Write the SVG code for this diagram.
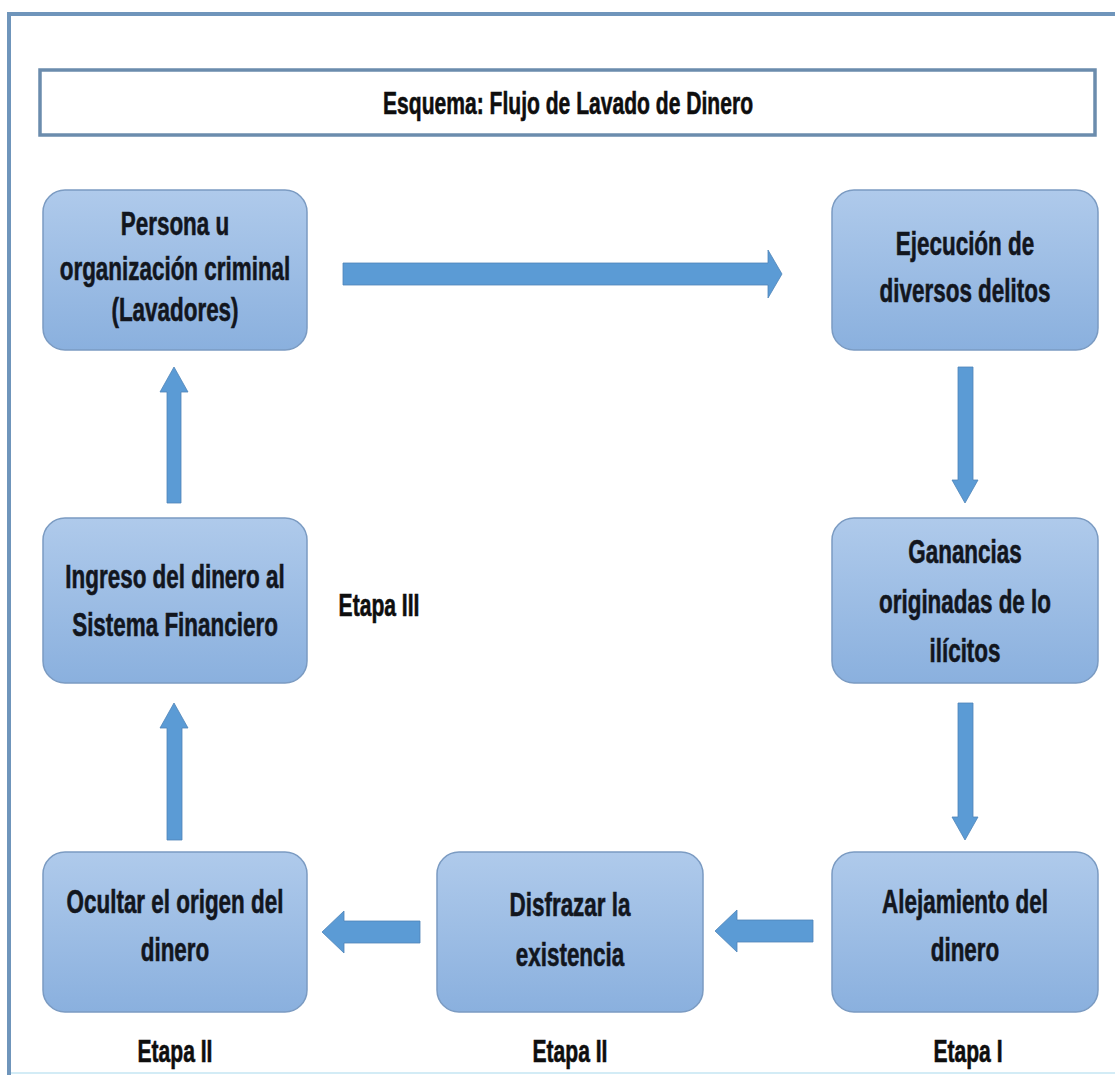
<svg xmlns="http://www.w3.org/2000/svg" width="1115" height="1075" viewBox="0 0 1115 1075">
  <defs>
    <linearGradient id="boxFill" x1="0" y1="0" x2="0" y2="1">
      <stop offset="0" stop-color="#afcaeb"/>
      <stop offset="1" stop-color="#8ab0de"/>
    </linearGradient>
    <style>
      .frame { fill: #ffffff; stroke: #6f95bb; stroke-width: 4; }
      .titlebox { fill: #ffffff; stroke: #6b8cad; stroke-width: 3.5; }
      .node rect { fill: url(#boxFill); stroke: #7b9bc2; stroke-width: 1.5; }
      .lbl { font-family: "Liberation Sans", Arial, sans-serif; font-weight: bold; font-size: 33px; fill: #12161e; stroke: #12161e; stroke-width: 0.6; text-anchor: middle; }
      .title { font-size: 31px; fill: #0e0e0e; stroke: #0e0e0e; }
      .stage { font-size: 31px; fill: #0e0e0e; stroke: #0e0e0e; }
      .arrow { fill: #5b9bd5; stroke: #4f84b8; stroke-width: 0.8; }
    </style>
  </defs>

  <!-- page frame -->
  <rect class="frame" x="9" y="14" width="1200" height="1200"/>
  <line x1="11" y1="1073" x2="1115" y2="1073" stroke="#d3ecf6" stroke-width="2"/>

  <!-- title -->
  <g id="title">
    <rect class="titlebox" x="40" y="70" width="1055" height="65"/>
    <g transform="translate(568,114) scale(0.68,1)">
      <text class="lbl title" x="0" y="0">Esquema: Flujo de Lavado de Dinero</text>
    </g>
  </g>

  <!-- connectors -->
  <g id="connectors">
    <polygon class="arrow" points="343,263 768,263 768,250 782,274 768,298 768,285 343,285"/>
    <polygon class="arrow" points="958,367 973,367 973,480 978,480 965,503 952,480 958,480"/>
    <polygon class="arrow" points="958,703 973,703 973,817 978,817 965,840 952,817 958,817"/>
    <polygon class="arrow" points="813,920 813,942 737,942 737,952 715,931 737,910 737,920"/>
    <polygon class="arrow" points="420,921 420,943 344,943 344,953 322,932 344,911 344,921"/>
    <polygon class="arrow" points="167,840 182,840 182,728 188,728 174,703 160,728 167,728"/>
    <polygon class="arrow" points="167,503 181,503 181,392 188,392 174,367 160,392 167,392"/>
  </g>

  <!-- nodes -->
  <g id="n-persona" class="node">
    <rect x="43" y="190" width="264" height="160" rx="22"/>
    <g transform="translate(175,0) scale(0.68,1)">
      <text class="lbl" x="0" y="235">Persona u</text>
      <text class="lbl" x="0" y="280">organización criminal</text>
      <text class="lbl" x="0" y="321">(Lavadores)</text>
    </g>
  </g>

  <g id="n-ejecucion" class="node">
    <rect x="832" y="190" width="266" height="160" rx="22"/>
    <g transform="translate(965,0) scale(0.68,1)">
      <text class="lbl" x="0" y="255">Ejecución de</text>
      <text class="lbl" x="0" y="302">diversos delitos</text>
    </g>
  </g>

  <g id="n-ganancias" class="node">
    <rect x="832" y="518" width="266" height="165" rx="22"/>
    <g transform="translate(965,0) scale(0.68,1)">
      <text class="lbl" x="0" y="563">Ganancias</text>
      <text class="lbl" x="0" y="613">originadas de lo</text>
      <text class="lbl" x="0" y="662">ilícitos</text>
    </g>
  </g>

  <g id="n-alejamiento" class="node">
    <rect x="832" y="852" width="266" height="160" rx="22"/>
    <g transform="translate(965,0) scale(0.68,1)">
      <text class="lbl" x="0" y="913">Alejamiento del</text>
      <text class="lbl" x="0" y="961">dinero</text>
    </g>
  </g>

  <g id="n-disfrazar" class="node">
    <rect x="437" y="852" width="266" height="160" rx="22"/>
    <g transform="translate(570,0) scale(0.68,1)">
      <text class="lbl" x="0" y="916">Disfrazar la</text>
      <text class="lbl" x="0" y="966">existencia</text>
    </g>
  </g>

  <g id="n-ocultar" class="node">
    <rect x="43" y="852" width="264" height="160" rx="22"/>
    <g transform="translate(175,0) scale(0.68,1)">
      <text class="lbl" x="0" y="913">Ocultar el origen del</text>
      <text class="lbl" x="0" y="961">dinero</text>
    </g>
  </g>

  <g id="n-ingreso" class="node">
    <rect x="43" y="518" width="264" height="165" rx="22"/>
    <g transform="translate(175,0) scale(0.68,1)">
      <text class="lbl" x="0" y="588">Ingreso del dinero al</text>
      <text class="lbl" x="0" y="636">Sistema Financiero</text>
    </g>
  </g>

  <!-- stage labels -->
  <g id="stages">
    <g transform="translate(379,616) scale(0.68,1)"><text class="lbl stage" x="0" y="0">Etapa III</text></g>
    <g transform="translate(175,1062) scale(0.68,1)"><text class="lbl stage" x="0" y="0">Etapa II</text></g>
    <g transform="translate(570,1062) scale(0.68,1)"><text class="lbl stage" x="0" y="0">Etapa II</text></g>
    <g transform="translate(968,1062) scale(0.68,1)"><text class="lbl stage" x="0" y="0">Etapa I</text></g>
  </g>
</svg>
